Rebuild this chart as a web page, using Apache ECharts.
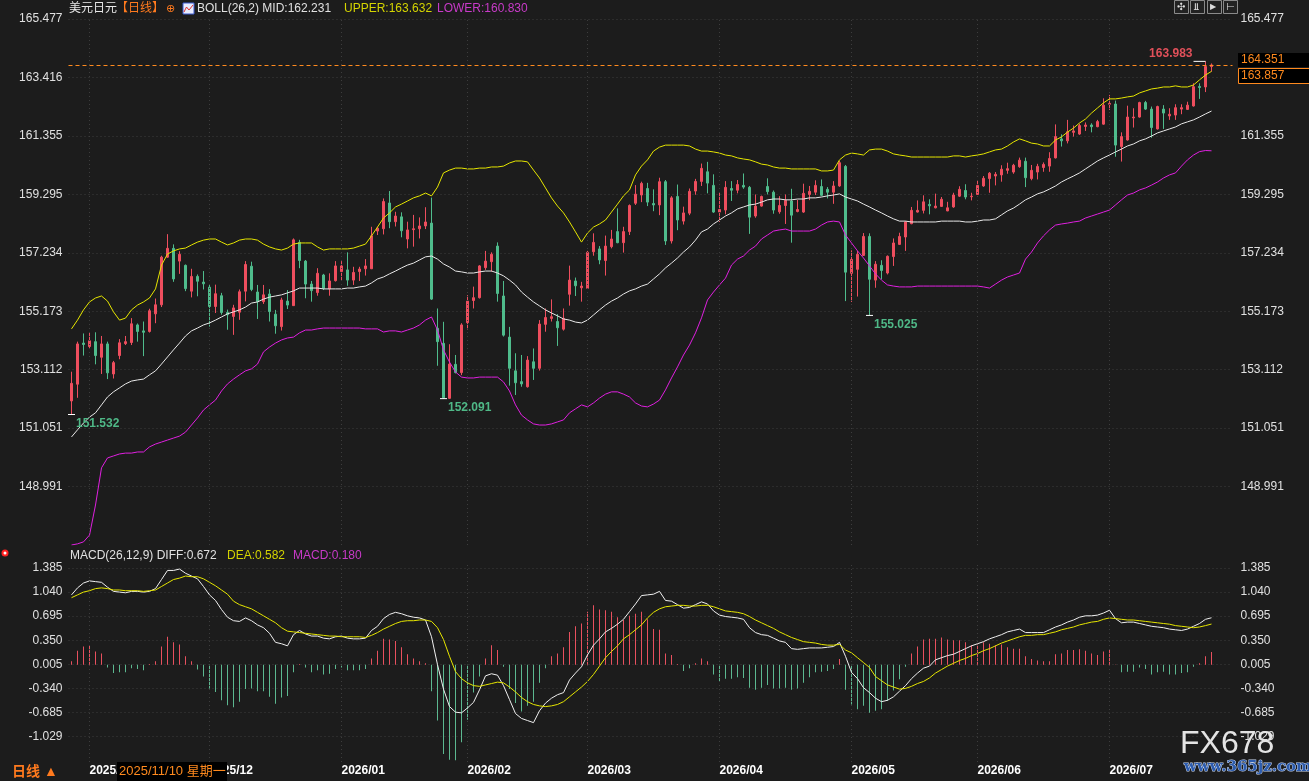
<!DOCTYPE html>
<html><head><meta charset="utf-8">
<script src="https://cdn.jsdelivr.net/npm/echarts@6/dist/echarts.min.js"></script>
<style>html,body{margin:0;padding:0;background:#1c1c1c;}#c{width:1309px;height:781px;}</style>
</head><body><div id="c"></div>
<script>
const opens=[152.01,152.60,154.05,153.93,154.10,153.55,154.02,152.96,153.61,154.03,
154.07,154.69,154.48,154.46,155.08,155.40,157.08,157.39,156.94,156.79,
155.88,156.40,156.20,156.02,155.34,155.72,155.13,154.99,155.14,155.88,
156.76,155.85,155.51,155.78,155.07,154.63,155.53,155.37,157.60,156.94,
156.13,155.83,156.45,155.96,156.25,156.57,156.63,156.27,156.57,156.67,
156.67,158.00,158.08,158.99,158.33,158.50,157.72,158.05,158.08,158.18,
158.28,154.57,154.04,152.10,153.30,153.01,154.77,155.55,155.65,156.71,
156.92,157.47,155.71,154.26,153.07,152.69,152.51,153.39,153.16,154.71,
154.92,154.81,154.54,155.77,156.24,156.00,155.98,157.27,157.37,156.96,
157.45,157.98,157.59,157.98,158.98,159.27,159.50,158.97,158.92,159.74,
157.65,159.22,158.35,158.63,159.41,159.75,160.09,159.61,158.67,158.74,
159.50,159.44,159.61,159.54,158.53,158.88,159.57,159.37,158.68,158.90,
159.06,158.69,158.67,159.29,159.37,159.57,159.47,159.37,159.59,160.28,
156.51,156.65,157.14,157.81,156.27,156.79,156.52,157.10,157.53,157.79,
158.26,158.67,158.73,158.94,158.82,158.87,158.71,158.85,159.23,159.43,
159.21,159.29,159.59,159.85,159.94,159.98,160.14,160.08,160.27,160.46,
159.85,160.08,160.24,160.29,160.58,161.25,161.18,161.48,161.42,161.69,
161.74,161.68,161.77,162.47,162.48,160.98,161.21,161.99,162.02,162.53,
162.30,161.60,162.30,162.06,162.09,162.30,162.29,162.41,163.10,163.08,
163.80];
const closes=[152.63,154.02,154.00,154.13,153.61,154.02,153.00,153.36,154.06,154.10,
154.73,154.46,154.43,155.19,155.40,157.08,157.39,156.31,157.18,155.97,
156.40,156.23,156.14,155.34,155.79,155.13,155.05,155.29,155.86,156.82,
155.94,155.51,155.75,155.16,154.66,155.57,155.39,157.69,156.96,156.13,
155.90,156.51,155.98,156.24,156.77,156.77,156.27,156.54,156.66,156.77,
157.83,158.10,159.04,158.33,158.53,158.01,158.04,158.08,158.18,158.32,
155.60,154.10,152.12,153.31,153.01,154.69,155.53,155.65,156.77,156.94,
157.18,155.80,154.33,153.16,152.65,152.61,153.45,153.16,154.72,154.95,
154.98,154.59,154.92,156.27,156.07,156.06,157.25,157.60,156.98,157.47,
157.72,157.59,157.98,158.90,159.30,159.68,159.02,158.92,159.74,157.65,
159.17,158.39,158.64,159.40,159.75,160.21,159.69,158.67,158.76,159.54,
159.44,159.64,159.55,158.49,158.88,159.22,159.39,158.74,158.90,159.08,
158.56,158.76,159.33,159.40,159.61,159.26,159.37,159.59,160.41,156.55,
157.00,157.18,157.81,156.30,156.83,156.61,157.11,157.58,157.81,158.32,
158.73,158.73,159.03,158.89,158.88,159.12,158.82,159.27,159.47,159.20,
159.23,159.61,159.86,160.04,160.00,160.18,160.20,160.32,160.50,159.88,
160.14,160.28,160.35,160.56,161.33,161.18,161.50,161.53,161.72,161.74,
161.68,161.86,162.44,162.50,161.03,161.33,162.02,162.02,162.53,162.30,
161.65,162.39,162.16,162.12,162.35,162.35,162.44,163.09,163.06,163.80,
163.857];
const lows=[151.532,152.12,153.61,153.87,153.30,152.96,152.78,152.80,153.48,153.98,
153.98,154.10,153.59,154.42,154.75,155.32,157.05,156.21,156.49,155.88,
155.66,155.70,155.94,154.63,155.11,155.05,154.52,154.34,154.87,155.52,
155.88,154.90,155.43,154.81,154.38,154.49,155.25,155.36,156.69,155.63,
155.51,155.72,155.92,155.72,156.22,156.27,156.07,156.10,156.24,156.43,
156.66,157.86,157.88,158.10,158.16,157.78,157.39,157.45,157.74,158.07,
155.57,153.25,152.091,152.10,152.98,152.92,154.53,155.27,155.62,156.63,
156.57,155.51,154.28,152.55,152.22,152.51,152.48,152.75,153.08,154.45,
154.81,153.95,154.49,155.37,155.71,155.51,155.96,157.13,156.83,156.43,
157.39,157.57,157.24,157.86,158.92,159.02,158.88,158.70,158.56,157.51,
157.56,158.03,158.23,158.56,159.28,159.59,159.33,158.64,158.32,158.59,
159.06,159.33,159.49,157.90,158.47,158.86,159.29,158.61,158.61,158.25,
157.59,158.66,158.64,159.09,159.27,159.23,159.15,158.96,159.56,155.53,
155.50,155.69,157.12,155.025,156.00,156.30,156.47,156.77,157.51,157.30,
158.24,158.65,158.62,158.59,158.80,158.85,158.70,158.82,159.20,159.12,
159.08,159.28,159.56,159.35,159.61,159.74,160.02,160.02,160.23,159.55,
159.79,159.82,160.09,160.09,160.56,160.98,161.09,161.33,161.39,161.53,
161.48,161.66,161.75,162.27,160.62,160.45,161.19,161.65,162.00,162.27,
161.29,161.58,161.60,161.92,161.92,162.12,162.27,162.39,162.66,162.90,
163.62];
const highs=[153.04,154.10,154.39,154.43,154.43,154.30,154.10,153.42,154.19,154.30,
154.93,154.74,154.81,155.26,155.62,157.13,157.89,157.53,157.29,156.82,
156.67,156.47,156.59,156.11,156.11,155.82,155.23,155.40,155.94,156.94,
156.92,156.10,156.10,155.95,155.22,155.65,155.92,157.74,157.69,156.98,
156.24,156.69,156.49,156.51,156.94,156.94,157.25,156.74,156.74,157.01,
158.15,158.15,159.15,159.41,158.68,158.66,158.33,158.57,158.48,158.84,
159.18,155.27,154.80,154.01,153.63,154.75,155.74,156.04,156.80,157.30,
157.25,157.60,156.24,154.62,153.69,153.63,153.59,153.86,154.86,155.27,
155.59,155.07,155.27,156.78,156.36,156.21,157.30,157.92,157.47,157.84,
158.04,158.80,158.15,158.94,159.62,159.74,159.70,159.47,159.88,159.80,
159.23,159.64,158.86,159.50,159.84,160.38,160.44,160.00,159.35,159.76,
159.76,159.80,160.03,159.59,159.29,159.25,159.86,159.43,159.23,159.29,
159.49,159.10,159.67,159.59,159.79,159.82,159.55,159.76,160.47,160.33,
157.32,157.30,157.93,157.92,156.94,156.97,157.14,157.74,157.94,158.35,
158.85,159.08,159.26,159.12,159.32,159.20,159.03,159.35,159.58,159.65,
159.35,159.79,159.94,160.08,160.08,160.32,160.41,160.37,160.59,160.59,
160.33,160.37,160.42,160.78,161.76,161.41,161.92,161.72,161.78,161.83,
161.80,161.92,162.68,162.80,162.60,161.48,162.42,162.33,162.56,162.59,
162.39,162.42,162.44,162.33,162.47,162.47,162.56,163.21,163.21,163.983,
163.91];
const bollMid=[150.74,150.99,151.23,151.44,151.59,151.87,152.15,152.33,152.47,152.61,
152.71,152.75,152.78,152.93,153.07,153.31,153.56,153.81,154.05,154.30,
154.48,154.58,154.69,154.76,154.86,154.97,155.08,155.15,155.22,155.32,
155.46,155.50,155.60,155.67,155.71,155.75,155.82,155.89,155.99,155.99,
155.99,155.99,155.96,155.96,155.96,155.96,155.99,155.99,156.03,156.06,
156.17,156.31,156.38,156.49,156.59,156.70,156.80,156.87,156.98,157.09,
157.12,157.01,156.84,156.73,156.59,156.56,156.52,156.52,156.56,156.59,
156.59,156.52,156.42,156.27,156.10,155.85,155.67,155.50,155.36,155.22,
155.11,155.01,154.90,154.86,154.79,154.76,154.86,155.04,155.22,155.39,
155.53,155.64,155.78,155.89,155.96,156.06,156.13,156.31,156.49,156.70,
156.87,157.05,157.26,157.44,157.68,157.97,158.07,158.25,158.39,158.53,
158.64,158.78,158.85,158.92,158.95,159.02,159.10,159.13,159.13,159.10,
159.10,159.13,159.13,159.17,159.17,159.20,159.24,159.27,159.31,159.20,
159.13,159.06,158.95,158.85,158.74,158.64,158.53,158.43,158.35,158.35,
158.32,158.32,158.32,158.32,158.32,158.35,158.35,158.35,158.35,158.32,
158.32,158.35,158.39,158.39,158.43,158.57,158.71,158.81,158.95,159.10,
159.20,159.31,159.38,159.48,159.59,159.73,159.84,159.94,160.05,160.19,
160.33,160.47,160.58,160.68,160.79,160.89,161.00,161.07,161.18,161.25,
161.35,161.46,161.53,161.60,161.67,161.78,161.85,161.92,162.02,162.13,
162.231];
const bollUpper=[154.55,154.86,155.22,155.50,155.64,155.71,155.53,155.15,154.86,154.93,
155.22,155.39,155.50,155.64,155.96,156.80,157.19,157.30,157.37,157.40,
157.51,157.61,157.68,157.72,157.72,157.61,157.51,157.58,157.68,157.72,
157.72,157.68,157.54,157.44,157.37,157.33,157.40,157.54,157.58,157.58,
157.58,157.44,157.33,157.37,157.37,157.37,157.37,157.40,157.47,157.54,
157.83,158.14,158.46,158.64,158.85,158.95,159.06,159.17,159.24,159.34,
159.24,159.55,160.05,160.15,160.22,160.22,160.19,160.19,160.22,160.22,
160.26,160.26,160.29,160.40,160.47,160.47,160.44,160.15,159.87,159.52,
159.17,158.88,158.64,158.32,157.97,157.61,157.93,158.14,158.25,158.39,
158.67,158.95,159.24,159.45,159.98,160.29,160.51,160.82,160.96,161.03,
161.03,161.03,161.03,161.00,160.89,160.82,160.82,160.79,160.75,160.68,
160.65,160.58,160.54,160.51,160.44,160.36,160.33,160.26,160.22,160.22,
160.19,160.19,160.19,160.19,160.19,160.12,160.12,160.15,160.51,160.68,
160.75,160.72,160.68,160.86,160.89,160.89,160.82,160.72,160.68,160.65,
160.61,160.61,160.61,160.61,160.61,160.61,160.61,160.65,160.65,160.61,
160.65,160.68,160.72,160.79,160.86,160.89,161.00,161.14,161.25,161.18,
161.10,161.07,161.00,161.00,161.21,161.32,161.49,161.63,161.81,161.95,
162.16,162.34,162.52,162.66,162.66,162.69,162.73,162.76,162.87,162.94,
163.01,163.04,163.08,163.08,163.12,163.08,163.08,163.15,163.33,163.50,
163.632];
const bollLower=[146.93,146.97,147.04,147.28,148.34,149.65,150.00,150.07,150.14,150.17,
150.17,150.21,150.21,150.39,150.49,150.56,150.63,150.70,150.77,150.91,
151.16,151.41,151.69,151.87,152.04,152.36,152.61,152.78,152.93,153.07,
153.14,153.31,153.74,153.91,154.05,154.16,154.23,154.26,154.41,154.51,
154.51,154.55,154.58,154.58,154.58,154.58,154.58,154.58,154.58,154.55,
154.55,154.55,154.44,154.48,154.48,154.44,154.51,154.58,154.69,154.86,
154.97,154.51,153.81,153.38,153.03,152.85,152.82,152.82,152.85,152.85,
152.85,152.85,152.68,152.36,151.87,151.51,151.34,151.20,151.16,151.16,
151.20,151.27,151.34,151.59,151.73,151.87,151.80,151.94,152.11,152.25,
152.33,152.33,152.25,152.15,151.94,151.83,151.80,151.90,152.04,152.40,
152.82,153.21,153.63,153.98,154.41,154.94,155.57,155.85,156.10,156.34,
156.80,157.01,157.12,157.33,157.47,157.72,157.86,158.00,158.04,158.07,
158.00,158.00,158.00,158.00,158.07,158.21,158.32,158.35,158.32,157.86,
157.58,157.30,157.05,156.77,156.49,156.27,156.10,156.06,156.03,156.03,
156.03,156.06,156.06,156.06,156.06,156.06,156.06,156.06,156.06,156.06,
156.06,156.06,156.03,155.99,156.13,156.27,156.38,156.45,156.52,157.01,
157.26,157.58,157.83,158.04,158.21,158.25,158.28,158.32,158.35,158.46,
158.53,158.60,158.67,158.74,158.92,159.10,159.27,159.34,159.45,159.52,
159.62,159.73,159.87,159.98,160.05,160.29,160.51,160.68,160.80,160.84,
160.830];
const macdDiff=[1.00,1.10,1.17,1.20,1.19,1.18,1.11,1.05,1.04,1.03,
1.05,1.05,1.04,1.05,1.09,1.22,1.35,1.35,1.37,1.31,
1.27,1.23,1.12,1.00,0.92,0.79,0.68,0.63,0.62,0.67,
0.63,0.57,0.53,0.45,0.32,0.30,0.27,0.43,0.49,0.44,
0.41,0.41,0.38,0.37,0.40,0.41,0.38,0.37,0.37,0.38,
0.49,0.55,0.66,0.72,0.75,0.73,0.70,0.68,0.67,0.64,
0.40,0.00,-0.35,-0.60,-0.68,-0.69,-0.62,-0.54,-0.36,-0.16,
-0.13,-0.15,-0.30,-0.50,-0.70,-0.77,-0.80,-0.83,-0.66,-0.55,
-0.48,-0.43,-0.40,-0.22,-0.12,-0.03,0.14,0.28,0.37,0.47,
0.52,0.58,0.65,0.76,0.87,0.99,1.00,1.01,1.05,0.92,
0.91,0.86,0.81,0.82,0.86,0.90,0.87,0.77,0.71,0.69,
0.68,0.67,0.65,0.53,0.46,0.43,0.42,0.38,0.34,0.32,
0.23,0.22,0.23,0.24,0.24,0.24,0.25,0.26,0.32,0.12,
-0.11,-0.20,-0.33,-0.40,-0.48,-0.53,-0.51,-0.46,-0.38,-0.30,
-0.20,-0.12,-0.05,-0.02,0.07,0.10,0.13,0.15,0.19,0.23,
0.27,0.30,0.33,0.37,0.40,0.43,0.47,0.49,0.51,0.46,
0.46,0.46,0.46,0.50,0.54,0.57,0.61,0.64,0.68,0.70,
0.70,0.71,0.74,0.78,0.66,0.60,0.61,0.61,0.59,0.57,
0.55,0.54,0.53,0.51,0.50,0.49,0.51,0.55,0.59,0.65,
0.672];
const macdDea=[0.96,1.00,1.04,1.06,1.09,1.10,1.09,1.07,1.07,1.06,
1.06,1.06,1.05,1.06,1.07,1.12,1.17,1.22,1.24,1.27,
1.26,1.26,1.23,1.18,1.13,1.07,1.01,0.91,0.86,0.83,
0.80,0.75,0.70,0.65,0.60,0.53,0.48,0.47,0.46,0.45,
0.44,0.43,0.42,0.41,0.41,0.40,0.40,0.40,0.40,0.39,
0.42,0.46,0.51,0.55,0.59,0.62,0.63,0.63,0.64,0.64,
0.62,0.53,0.36,0.12,-0.10,-0.20,-0.26,-0.30,-0.31,-0.29,
-0.27,-0.25,-0.26,-0.32,-0.39,-0.47,-0.53,-0.57,-0.59,-0.60,
-0.59,-0.57,-0.53,-0.46,-0.39,-0.32,-0.24,-0.14,-0.02,0.10,
0.19,0.27,0.37,0.43,0.50,0.57,0.67,0.75,0.80,0.83,
0.84,0.85,0.85,0.84,0.84,0.85,0.85,0.83,0.80,0.77,
0.76,0.75,0.73,0.69,0.64,0.60,0.56,0.52,0.47,0.43,
0.39,0.36,0.33,0.32,0.31,0.29,0.28,0.28,0.29,0.21,
0.17,0.10,0.03,-0.04,-0.17,-0.23,-0.29,-0.32,-0.35,-0.34,
-0.31,-0.27,-0.24,-0.19,-0.12,-0.07,-0.02,0.02,0.06,0.09,
0.13,0.16,0.20,0.23,0.27,0.31,0.34,0.37,0.40,0.42,
0.42,0.43,0.43,0.45,0.47,0.50,0.52,0.54,0.57,0.59,
0.61,0.62,0.65,0.67,0.66,0.65,0.64,0.64,0.63,0.62,
0.61,0.60,0.59,0.58,0.56,0.55,0.54,0.53,0.54,0.56,
0.582];
const macdHist=[0.05,0.20,0.26,0.27,0.19,0.16,-0.04,-0.12,-0.11,-0.11,
-0.05,-0.06,-0.08,0.01,0.05,0.26,0.40,0.32,0.29,0.12,
0.05,-0.07,-0.17,-0.34,-0.39,-0.51,-0.58,-0.61,-0.53,-0.35,
-0.34,-0.38,-0.38,-0.46,-0.56,-0.47,-0.45,-0.11,0.01,-0.04,
-0.11,-0.08,-0.14,-0.13,-0.06,-0.04,-0.08,-0.08,-0.08,-0.06,
0.09,0.20,0.37,0.36,0.34,0.25,0.15,0.09,0.05,0.02,
-0.38,-0.80,-1.28,-1.36,-1.37,-1.11,-0.79,-0.40,-0.17,0.09,
0.28,0.21,-0.03,-0.35,-0.55,-0.67,-0.59,-0.53,-0.26,-0.05,
0.12,0.16,0.25,0.47,0.55,0.59,0.76,0.85,0.79,0.78,
0.76,0.68,0.64,0.70,0.73,0.76,0.65,0.51,0.50,0.16,
0.14,0.01,-0.09,-0.05,0.02,0.09,0.05,-0.14,-0.24,-0.20,
-0.20,-0.18,-0.19,-0.33,-0.36,-0.33,-0.29,-0.34,-0.34,-0.33,
-0.36,-0.34,-0.26,-0.18,-0.11,-0.10,-0.09,-0.06,0.08,-0.36,
-0.57,-0.64,-0.59,-0.69,-0.66,-0.64,-0.52,-0.37,-0.21,-0.03,
0.16,0.26,0.36,0.37,0.37,0.39,0.36,0.35,0.35,0.32,
0.28,0.29,0.32,0.30,0.28,0.29,0.25,0.23,0.23,0.12,
0.08,0.06,0.05,0.05,0.15,0.16,0.21,0.21,0.22,0.20,
0.16,0.14,0.19,0.21,0.003,-0.11,-0.10,-0.10,-0.04,-0.06,
-0.14,-0.11,-0.10,-0.14,-0.14,-0.12,-0.11,-0.03,0.02,0.12,
0.18];
const priceTicks=[148.991,151.051,153.112,155.173,157.234,159.295,161.355,163.416,165.477];
const macdTicks=[-1.029,-0.685,-0.340,0.005,0.350,0.695,1.040,1.385];
const holidays=['2025/12/25','2026/01/01'];
const pad2=n=>(n<10?'0':'')+n;
const dates=[];
{let d=new Date(2025,9,29);
 while(dates.length<opens.length){const wd=d.getDay();const s=d.getFullYear()+'/'+pad2(d.getMonth()+1)+'/'+pad2(d.getDate());
  if(wd!==0&&wd!==6&&holidays.indexOf(s)<0)dates.push(s);d.setDate(d.getDate()+1);}}
const cats=dates.concat(['+1','+2','+3']);
const monthStarts=[];
for(let i=1;i<dates.length;i++){if(dates[i].slice(0,7)!==dates[i-1].slice(0,7))monthStarts.push(i);}
const msSet=new Set(monthStarts);
const UP='#ee4e5e',DN='#4fbc8c';
const FONT='Arial, "Liberation Sans", "Noto Sans CJK SC", sans-serif';
const candleData=dates.map((_,i)=>[opens[i],closes[i],lows[i],highs[i]]);
const vLines=monthStarts.map(i=>({xAxis:dates[i]}));
const gridLine={color:'#3d3d3d',type:[1,3],width:1};
const chart=echarts.init(document.getElementById('c'));
const xBase={type:'category',data:cats,boundaryGap:true,axisLine:{show:false},axisTick:{show:false},splitLine:{show:false}};
function txt(x,y,text,fill,extra,z){return {type:'text',z:z||100,style:Object.assign({x:x,y:y,text:text,fill:fill,font:'12px '+FONT,verticalAlign:'middle'},extra||{})};}
const lastClose=closes[closes.length-1];
chart.setOption({
  backgroundColor:'#1c1c1c',animation:false,
  grid:[{left:68.5,width:1164,top:19,height:526},{left:68.5,width:1164,top:562,height:200}],
  xAxis:[Object.assign({},xBase,{gridIndex:0,axisLabel:{show:false}}),
    Object.assign({},xBase,{gridIndex:1,axisLabel:{show:true,interval:(idx)=>msSet.has(idx),formatter:v=>v.slice(0,7),align:'left',margin:3,color:'#ffffff',fontWeight:'bold',fontSize:12,fontFamily:FONT}})],
  yAxis:[
    {type:'value',gridIndex:0,position:'left',min:146.9298,max:165.477,axisLine:{show:false},axisTick:{show:false,customValues:priceTicks},
     axisLabel:{customValues:priceTicks,formatter:v=>v.toFixed(3),color:'#e0e0e0',fontSize:12,fontFamily:FONT,margin:6},splitLine:{show:true,lineStyle:gridLine}},
    {type:'value',gridIndex:0,position:'right',min:146.9298,max:165.477,axisLine:{show:false},axisTick:{show:false,customValues:priceTicks},
     axisLabel:{customValues:priceTicks,formatter:v=>v.toFixed(3),color:'#e0e0e0',fontSize:12,fontFamily:FONT,margin:8},splitLine:{show:false}},
    {type:'value',gridIndex:1,position:'left',min:-1.394,max:1.471,axisLine:{show:false},axisTick:{show:false,customValues:macdTicks},
     axisLabel:{customValues:macdTicks,formatter:v=>v.toFixed(3),color:'#e0e0e0',fontSize:12,fontFamily:FONT,margin:6},splitLine:{show:true,lineStyle:gridLine}},
    {type:'value',gridIndex:1,position:'right',min:-1.394,max:1.471,axisLine:{show:false},axisTick:{show:false,customValues:macdTicks},
     axisLabel:{customValues:macdTicks,formatter:v=>v.toFixed(3),color:'#e0e0e0',fontSize:12,fontFamily:FONT,margin:8},splitLine:{show:false}}
  ],
  series:[
    {type:'candlestick',xAxisIndex:0,yAxisIndex:0,data:candleData,barWidth:3,
     itemStyle:{color:UP,color0:DN,borderColor:UP,borderColor0:DN,borderWidth:1},
     markLine:{silent:true,symbol:['none','none'],label:{show:false},lineStyle:gridLine,
       data:vLines.concat([{yAxis:lastClose,lineStyle:{color:'#ff8a1e',type:[4,3],width:1}}])},
     markPoint:{silent:true,data:[
       {coord:[dates[0],lows[0]],symbol:'rect',symbolSize:[7,1],itemStyle:{color:'#ffffff'},
        label:{show:true,formatter:lows[0].toFixed(3),position:'right',offset:[-4,9],color:'#4fb887',fontWeight:'bold',fontSize:12,fontFamily:FONT}},
       {coord:[dates[62],lows[62]],symbol:'rect',symbolSize:[7,1],itemStyle:{color:'#ffffff'},
        label:{show:true,formatter:lows[62].toFixed(3),position:'right',offset:[-4,9],color:'#4fb887',fontWeight:'bold',fontSize:12,fontFamily:FONT}},
       {coord:[dates[133],lows[133]],symbol:'rect',symbolSize:[7,1],itemStyle:{color:'#ffffff'},
        label:{show:true,formatter:lows[133].toFixed(3),position:'right',offset:[-4,9],color:'#4fb887',fontWeight:'bold',fontSize:12,fontFamily:FONT}},
       {coord:[dates[189],highs[189]],symbol:'rect',symbolSize:[12,1],symbolOffset:[-6,0],itemStyle:{color:'#ffffff'},
        label:{show:true,formatter:highs[189].toFixed(3),position:'left',offset:[4,-8],color:'#e0505a',fontWeight:'bold',fontSize:12,fontFamily:FONT}}
     ]}},
    {type:'line',name:'MID',xAxisIndex:0,yAxisIndex:0,data:bollMid,symbol:'none',lineStyle:{color:'#e8e8e8',width:1}},
    {type:'line',name:'UPPER',xAxisIndex:0,yAxisIndex:0,data:bollUpper,symbol:'none',lineStyle:{color:'#e6e600',width:1}},
    {type:'line',name:'LOWER',xAxisIndex:0,yAxisIndex:0,data:bollLower,symbol:'none',lineStyle:{color:'#e020e0',width:1}},
    {type:'bar',name:'MACD',xAxisIndex:1,yAxisIndex:2,barWidth:1,
     data:macdHist.map(v=>({value:v,itemStyle:{color:v>=0?'#e8505e':'#5cb890'}})),
     markLine:{silent:true,symbol:['none','none'],label:{show:false},lineStyle:gridLine,data:vLines}},
    {type:'line',name:'DIFF',xAxisIndex:1,yAxisIndex:2,data:macdDiff,symbol:'none',lineStyle:{color:'#f0f0f0',width:1}},
    {type:'line',name:'DEA',xAxisIndex:1,yAxisIndex:2,data:macdDea,symbol:'none',lineStyle:{color:'#e6e600',width:1}}
  ],
  graphic:[
    txt(69,9,'美元日元','#e8e8e8'),
    txt(116,9,'【日线】','#ff7a1e'),
    txt(166,9,'⊕','#ff7a1e',{font:'11px "DejaVu Sans"'}),
    {type:'rect',z:100,shape:{x:183,y:3,width:11,height:11},style:{fill:'#e8ecff',stroke:'#3a5ad0',lineWidth:1}},
    {type:'polyline',z:101,shape:{points:[[184,12],[186.5,7],[189,10],[193,5]]},style:{stroke:'#e03030',lineWidth:1,fill:null}},
    txt(197,9,'BOLL(26,2) MID:'+bollMid[bollMid.length-1].toFixed(3),'#e0e0e0'),
    txt(344,9,'UPPER:'+bollUpper[bollUpper.length-1].toFixed(3),'#d4d400'),
    txt(437,9,'LOWER:'+bollLower[bollLower.length-1].toFixed(3),'#c83ac8'),
    txt(70,556,'MACD(26,12,9) DIFF:'+macdDiff[macdDiff.length-1].toFixed(3),'#e0e0e0'),
    txt(227,556,'DEA:'+macdDea[macdDea.length-1].toFixed(3),'#d4d400'),
    txt(293,556,'MACD:'+macdHist[macdHist.length-1].toFixed(3),'#c83ac8'),
    {type:'circle',z:100,shape:{cx:5,cy:553,r:3.5},style:{fill:'#ff2020'}},
    {type:'circle',z:101,shape:{cx:5,cy:553,r:1.5},style:{fill:'#ffffff'}},
    txt(12,772,'日线 ▲','#ff7a1e',{font:'bold 14px '+FONT}),
    {type:'rect',z:110,shape:{x:117,y:762,width:110,height:19},style:{fill:'#000000'}},
    txt(119,771,'2025/11/10 星期一','#ff8a1e',{font:'13px '+FONT},120),
    {type:'rect',z:110,shape:{x:1238,y:53,width:71,height:14},style:{fill:'#000000'}},
    txt(1241,60,'164.351','#ff8a1e',{font:'12px '+FONT},120),
    {type:'rect',z:110,shape:{x:1238.5,y:68.5,width:71,height:15},style:{fill:'#000000',stroke:'#ff8a1e',lineWidth:1}},
    txt(1241,76,lastClose.toFixed(3),'#ff8a1e',{font:'12px '+FONT},120),
    {type:'rect',z:100,shape:{x:1174.5,y:0.5,width:14,height:13},style:{fill:'#222',stroke:'#8a8a8a',lineWidth:1}},
    {type:'rect',z:100,shape:{x:1190.5,y:0.5,width:14,height:13},style:{fill:'#222',stroke:'#8a8a8a',lineWidth:1}},
    {type:'rect',z:100,shape:{x:1207.5,y:0.5,width:14,height:13},style:{fill:'#222',stroke:'#8a8a8a',lineWidth:1}},
    {type:'rect',z:100,shape:{x:1223.5,y:0.5,width:14,height:13},style:{fill:'#222',stroke:'#8a8a8a',lineWidth:1}},
    txt(1177,7,'✣','#dddddd',{font:'10px "DejaVu Sans"'},105),
    txt(1193,7,'⫫','#dddddd',{font:'10px "DejaVu Sans"'},105),
    txt(1210,7,'▶','#dddddd',{font:'8px "DejaVu Sans"'},105),
    txt(1226,7,'⊢','#dddddd',{font:'10px "DejaVu Sans"'},105),
    txt(1180,744,'FX678','#e4e4e4',{font:'32px '+FONT},90),
    txt(1184,767,'www.365jz.com','#2d5cae',{font:'bold 15px "DejaVu Serif", serif',stroke:'#c8d6ef',lineWidth:1},90)
  ]
});
</script></body></html>
